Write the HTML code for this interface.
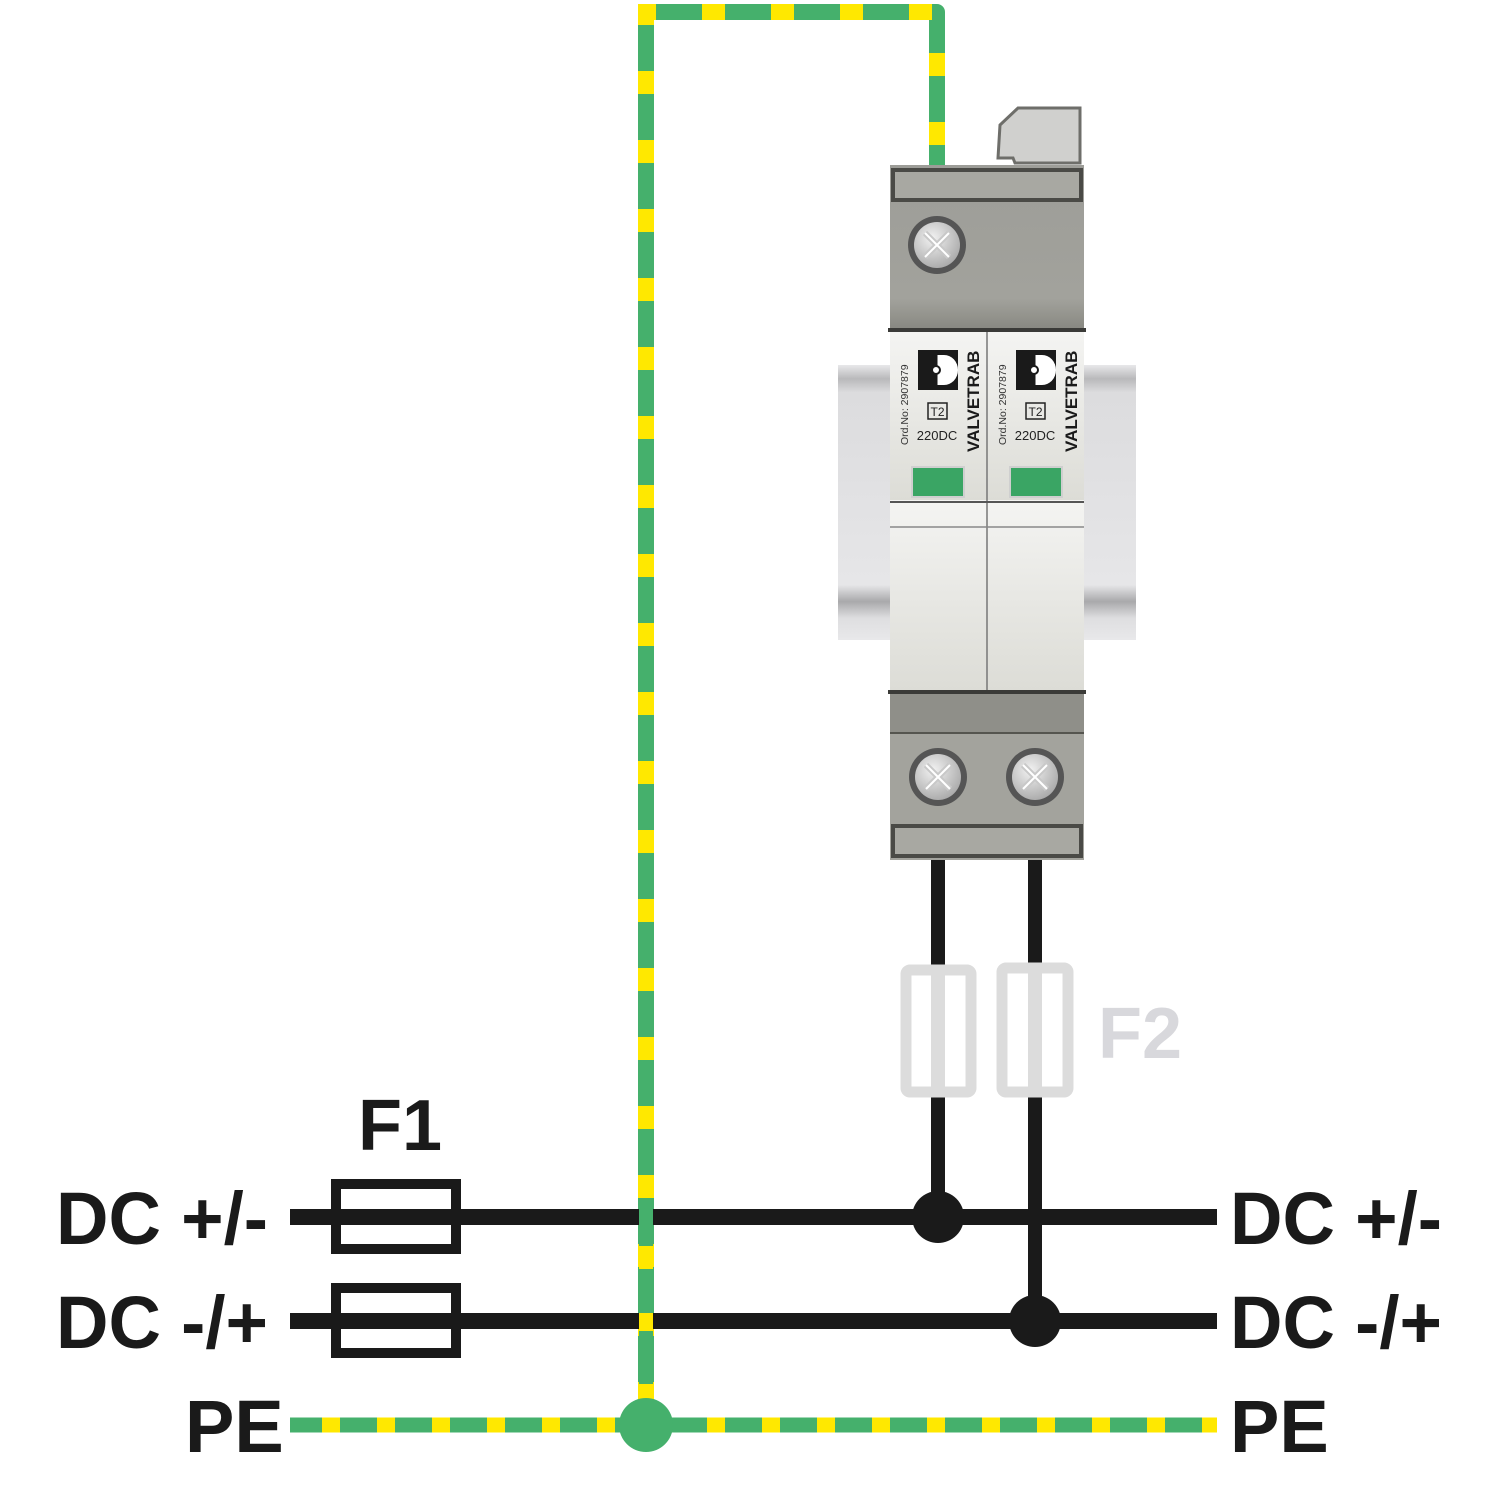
<!DOCTYPE html>
<html><head><meta charset="utf-8"><style>html,body{margin:0;padding:0;background:#fff}svg{display:block}</style></head>
<body>
<svg width="1500" height="1500" viewBox="0 0 1500 1500" xmlns="http://www.w3.org/2000/svg" font-family="Liberation Sans, Arial, sans-serif">
<defs>
<linearGradient id="rail" x1="0" y1="0" x2="0" y2="1">
<stop offset="0" stop-color="#e8e8ea"/><stop offset="0.05" stop-color="#b9b9bb"/><stop offset="0.1" stop-color="#dcdcde"/><stop offset="0.8" stop-color="#e6e6e8"/><stop offset="0.86" stop-color="#a9a9ab"/><stop offset="0.92" stop-color="#dedee0"/><stop offset="1" stop-color="#e8e8ea"/>
</linearGradient>
<linearGradient id="body" x1="0" y1="0" x2="0" y2="1">
<stop offset="0" stop-color="#f4f4f2"/><stop offset="1" stop-color="#dcdcd6"/>
</linearGradient>
<linearGradient id="grey" x1="0" y1="0" x2="0" y2="1">
<stop offset="0" stop-color="#9d9d98"/><stop offset="0.8" stop-color="#a2a29c"/><stop offset="1" stop-color="#86867f"/>
</linearGradient>
<radialGradient id="screw" cx="0.4" cy="0.35" r="0.7">
<stop offset="0" stop-color="#f2f2f2"/><stop offset="1" stop-color="#a8a8a8"/>
</radialGradient>
<g id="scr">
<circle r="29" fill="#555"/><circle r="23" fill="url(#screw)"/>
<path d="M-12,-12 L12,12 M12,-12 L-12,12" stroke="#c8c8c8" stroke-width="6"/>
<path d="M-12,-12 L12,12 M12,-12 L-12,12" stroke="#fff" stroke-width="2"/>
</g>
<g id="lbl">
<rect x="918" y="350" width="40" height="40" fill="#1a1a1a"/>
<path d="M936,355 L944,355 A14,15 0 0 1 944,385 L936,385 Z" fill="#fff"/>
<line x1="936" y1="355" x2="936" y2="385" stroke="#1a1a1a" stroke-width="3"/>
<circle cx="936" cy="370" r="4" fill="#fff" stroke="#1a1a1a" stroke-width="2"/>
<rect x="928" y="403" width="19" height="16" fill="none" stroke="#222" stroke-width="1.5"/>
<text x="937.5" y="416" font-size="12" text-anchor="middle" fill="#222">T2</text>
<text x="937" y="440" font-size="13" text-anchor="middle" fill="#222">220DC</text>
<text transform="translate(908,445) rotate(-90)" font-size="10.5" fill="#333">Ord.No: 2907879</text>
<text transform="translate(979,452) rotate(-90)" font-size="17" font-weight="bold" fill="#1a1a1a">VALVETRAB</text>
<rect x="912" y="467" width="52" height="30" fill="#3aa564" stroke="#cfcfcf" stroke-width="2"/>
</g>
</defs>

<!-- PE loop wire -->
<polyline points="646,1425 646,12 937,12 937,165" fill="none" stroke="#45b06c" stroke-width="16" stroke-linejoin="round"/>
<polyline points="646,1425 646,12 937,12 937,165" fill="none" stroke="#ffe800" stroke-width="16" stroke-dasharray="23 46" stroke-dashoffset="-20"/>

<!-- DIN rail -->
<rect x="838" y="365" width="298" height="275" fill="url(#rail)"/>

<!-- latch -->
<path d="M1000,125 L1018,108 L1080,108 L1080,163 L1015,163 L1013,158 L998,158 Z" fill="#d0d0ce" stroke="#6e6e6a" stroke-width="3"/>

<!-- device top -->
<rect x="890" y="165" width="194" height="167" fill="url(#grey)"/>
<rect x="893" y="170" width="188" height="30" fill="#a8a8a2" stroke="#4a4a46" stroke-width="4"/>
<use href="#scr" x="937" y="245"/>
<rect x="888" y="328" width="198" height="4" fill="#3b3b38"/>

<!-- label area -->
<rect x="890" y="332" width="194" height="170" fill="url(#body)"/>
<rect x="890" y="500" width="194" height="192" fill="url(#body)"/>
<line x1="987" y1="332" x2="987" y2="690" stroke="#777" stroke-width="1.5"/>
<line x1="890" y1="502" x2="1084" y2="502" stroke="#555" stroke-width="2"/>
<line x1="890" y1="527" x2="1084" y2="527" stroke="#888" stroke-width="1.5"/>
<use href="#lbl"/>
<use href="#lbl" x="98"/>

<!-- device bottom -->
<rect x="888" y="690" width="198" height="4" fill="#3b3b38"/>
<rect x="890" y="694" width="194" height="40" fill="#8f8f89"/>
<rect x="890" y="734" width="194" height="126" fill="#a3a39d"/>
<line x1="890" y1="733" x2="1084" y2="733" stroke="#55554f" stroke-width="2"/>
<use href="#scr" x="938" y="777"/>
<use href="#scr" x="1035" y="777"/>
<rect x="893" y="826" width="188" height="30" fill="#a8a8a2" stroke="#4a4a46" stroke-width="4"/>

<!-- vertical wires -->
<line x1="938" y1="860" x2="938" y2="968" stroke="#1a1a1a" stroke-width="14"/>
<line x1="938" y1="1094" x2="938" y2="1217" stroke="#1a1a1a" stroke-width="14"/>
<line x1="1035" y1="860" x2="1035" y2="966" stroke="#1a1a1a" stroke-width="14"/>
<line x1="1035" y1="1094" x2="1035" y2="1321" stroke="#1a1a1a" stroke-width="14"/>

<!-- F2 fuses -->
<g fill="#fff" stroke="#dcdcdc" stroke-width="11">
<rect x="906" y="970" width="65" height="122" rx="4"/>
<rect x="1002" y="968" width="66" height="124" rx="4"/>
</g>
<rect x="931" y="975" width="14" height="112" fill="#dcdcdc"/>
<rect x="1028" y="973" width="14" height="114" fill="#dcdcdc"/>
<text x="1098" y="1058" font-size="72" font-weight="bold" fill="#d8d8dc">F2</text>

<!-- DC lines -->
<line x1="290" y1="1217" x2="1217" y2="1217" stroke="#1a1a1a" stroke-width="16"/>
<line x1="290" y1="1321" x2="1217" y2="1321" stroke="#1a1a1a" stroke-width="16"/>
<line x1="646" y1="1200" x2="646" y2="1400" stroke="#45b06c" stroke-width="14"/>
<rect x="639" y="1313" width="14" height="18" fill="#ffe800"/>
<rect x="639" y="1246" width="14" height="23" fill="#ffe800"/>
<rect x="639" y="1384" width="14" height="18" fill="#ffe800"/>

<!-- F1 fuses -->
<rect x="336" y="1184" width="120" height="65" fill="none" stroke="#1a1a1a" stroke-width="10"/>
<rect x="336" y="1288" width="120" height="65" fill="none" stroke="#1a1a1a" stroke-width="10"/>
<text x="358" y="1150" font-size="72" font-weight="bold" fill="#1a1a1a">F1</text>

<!-- PE line -->
<line x1="290" y1="1425" x2="1217" y2="1425" stroke="#45b06c" stroke-width="15"/>
<line x1="290" y1="1425" x2="1217" y2="1425" stroke="#ffe800" stroke-width="15" stroke-dasharray="18 37" stroke-dashoffset="-32"/>

<!-- nodes -->
<circle cx="938" cy="1217" r="26" fill="#1a1a1a"/>
<circle cx="1035" cy="1321" r="26" fill="#1a1a1a"/>
<circle cx="646" cy="1425" r="27" fill="#45b06c"/>

<!-- labels -->
<g font-size="74" font-weight="bold" fill="#1a1a1a">
<text x="56" y="1244" textLength="212" lengthAdjust="spacingAndGlyphs">DC +/-</text>
<text x="56" y="1348" textLength="212" lengthAdjust="spacingAndGlyphs">DC -/+</text>
<text x="185" y="1452">PE</text>
<text x="1230" y="1244" textLength="212" lengthAdjust="spacingAndGlyphs">DC +/-</text>
<text x="1230" y="1348" textLength="212" lengthAdjust="spacingAndGlyphs">DC -/+</text>
<text x="1230" y="1452">PE</text>
</g>
</svg>
</body></html>
